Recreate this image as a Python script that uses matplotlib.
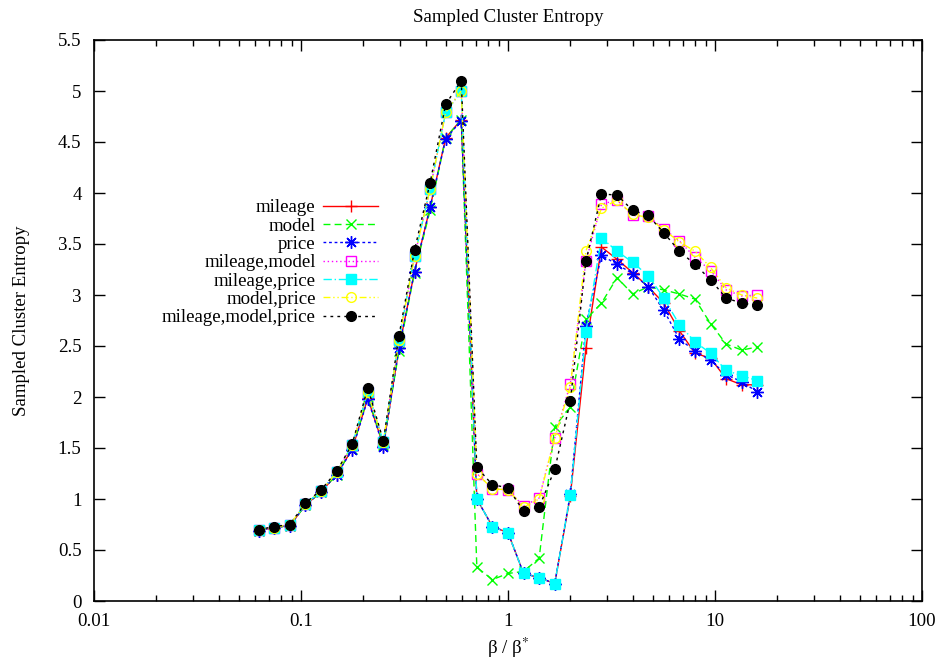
import numpy as np
import matplotlib
matplotlib.use("Agg")
import matplotlib.pyplot as plt
from matplotlib.ticker import FixedLocator, LogLocator, NullFormatter

plt.rcParams['font.family'] = ['Liberation Serif', 'DejaVu Serif']
plt.rcParams['mathtext.fontset'] = 'stix'

# x values: beta / beta*  (2^(k/4), k=-16..16)
beta_ratio = [0.0625, 0.0743, 0.0884, 0.1051, 0.125, 0.1487, 0.1768, 0.2102,
              0.25, 0.2973, 0.3536, 0.4204, 0.5, 0.5946, 0.7071, 0.8409,
              1.0, 1.1892, 1.4142, 1.6818, 2.0, 2.3784, 2.8284, 3.3636,
              4.0, 4.7568, 5.6569, 6.7272, 8.0, 9.5137, 11.3137, 13.4543, 16.0]

mileage = [0.69, 0.72, 0.74, 0.94, 1.07, 1.24, 1.49, 1.99, 1.52, 2.48, 3.23, 3.86, 4.54, 4.72,
           1.00, 0.73, 0.67, 0.27, 0.23, 0.17, 1.03, 2.48, 3.47, 3.35, 3.22, 3.08,
           2.92, 2.65, 2.43, 2.38, 2.18, 2.12, 2.12]
model = [0.69, 0.72, 0.74, 0.94, 1.07, 1.24, 1.49, 2.00, 1.53, 2.45, 3.22, 3.83, 4.54, 4.72,
         0.33, 0.21, 0.27, 0.29, 0.42, 1.71, 1.90, 2.76, 2.92, 3.17, 3.01, 3.08,
         3.05, 3.01, 2.96, 2.72, 2.52, 2.46, 2.49]
price = [0.69, 0.72, 0.74, 0.94, 1.07, 1.24, 1.48, 1.98, 1.51, 2.48, 3.23, 3.86, 4.53, 4.71,
         1.00, 0.73, 0.67, 0.27, 0.23, 0.17, 1.05, 2.70, 3.39, 3.30, 3.21, 3.08,
         2.85, 2.57, 2.45, 2.36, 2.22, 2.15, 2.05]
mileage_model = [0.70, 0.72, 0.75, 0.95, 1.08, 1.26, 1.53, 2.05, 1.56, 2.56, 3.38, 4.04, 4.79, 5.00,
                 1.25, 1.10, 1.09, 0.93, 1.01, 1.60, 2.13, 3.33, 3.89, 3.93, 3.78, 3.77,
                 3.65, 3.53, 3.37, 3.24, 3.05, 2.99, 3.00]
mileage_price = [0.70, 0.72, 0.75, 0.95, 1.08, 1.26, 1.53, 2.05, 1.56, 2.56, 3.38, 4.04, 4.79, 5.00,
                 1.00, 0.73, 0.67, 0.27, 0.23, 0.17, 1.04, 2.64, 3.56, 3.43, 3.32, 3.19,
                 2.97, 2.71, 2.54, 2.43, 2.26, 2.21, 2.16]
model_price = [0.70, 0.72, 0.75, 0.95, 1.08, 1.26, 1.53, 2.05, 1.56, 2.56, 3.38, 4.04, 4.79, 5.00,
               1.25, 1.10, 1.09, 0.92, 1.00, 1.60, 2.10, 3.43, 3.85, 3.93, 3.79, 3.76,
               3.64, 3.52, 3.43, 3.27, 3.07, 3.00, 2.97]
mileage_model_price = [0.70, 0.73, 0.75, 0.96, 1.09, 1.27, 1.54, 2.09, 1.57, 2.60, 3.44, 4.10, 4.87, 5.10,
                       1.31, 1.14, 1.11, 0.88, 0.92, 1.29, 1.96, 3.33, 3.99, 3.98, 3.83, 3.78,
                       3.61, 3.43, 3.30, 3.15, 2.97, 2.92, 2.90]

series = [
    ("mileage", mileage, dict(color='#ff0000', ls='-', marker='+', ms=9, mew=1.0)),
    ("model", model, dict(color='#00ff00', ls=(0, (5, 3)), marker='x', ms=7, mew=1.0)),
    ("price", price, dict(color='#0000ff', ls=(0, (2, 2)), marker=(8, 2, 0), ms=9, mew=1.0)),
    ("mileage,model", mileage_model, dict(color='#ff00ff', ls=(0, (1, 2)), marker='s', ms=7,
                                          mfc='none', mew=1.0)),
    ("mileage,price", mileage_price, dict(color='#00ffff', ls=(0, (6, 2, 1, 2)), marker='s', ms=7,
                                          mew=1.0)),
    ("model,price", model_price, dict(color='#ffff00', ls=(0, (5, 2, 1, 2, 1, 2)), marker='o', ms=7,
                                      mfc='none', mew=1.0)),
    ("mileage,model,price", mileage_model_price, dict(color='#000000', ls=(0, (2, 3)), marker='o',
                                                      ms=7, mew=1.0)),
]

FS = 13.6

fig = plt.figure(figsize=(9.47, 6.64), dpi=100)
ax = fig.add_axes([94 / 947, 1 - 601 / 664, (922 - 94) / 947, (601 - 40) / 664])

for name, vals, st in series:
    ax.plot(beta_ratio, vals, label=name, lw=1.0, **st)

ax.set_xscale('log')
ax.set_xlim(0.01, 100)
ax.set_ylim(0, 5.5)
ax.xaxis.set_major_locator(FixedLocator([0.01, 0.1, 1, 10, 100]))
ax.set_xticklabels(['0.01', '0.1', '1', '10', '100'])
ax.xaxis.set_minor_locator(LogLocator(base=10, subs=np.arange(2, 10)))
ax.xaxis.set_minor_formatter(NullFormatter())
yt = np.arange(0, 5.51, 0.5)
ax.set_yticks(yt)
ax.set_yticklabels(['0', '0.5', '1', '1.5', '2', '2.5', '3', '3.5', '4', '4.5', '5', '5.5'])

ax.tick_params(which='both', direction='in', top=True, right=True, labelsize=FS, width=1.0)
ax.tick_params(which='major', length=8, pad=9)
ax.tick_params(which='minor', length=4)
for sp in ax.spines.values():
    sp.set_linewidth(1.2)

ax.set_title('Sampled Cluster Entropy', fontsize=FS, pad=13)
ax.set_xlabel(r'β / β$^{*}$', fontsize=FS, labelpad=4)
ax.set_ylabel('Sampled Cluster Entropy', fontsize=FS, labelpad=20)

leg = ax.legend(loc='upper right', bbox_to_anchor=((378 - 94) / 828, (601 - 199) / 561),
                frameon=False, markerfirst=False, numpoints=1, fontsize=FS,
                handlelength=2.9, handletextpad=0.4, labelspacing=0.06,
                borderpad=0, borderaxespad=0)

fig.savefig('out.png', dpi=100)
